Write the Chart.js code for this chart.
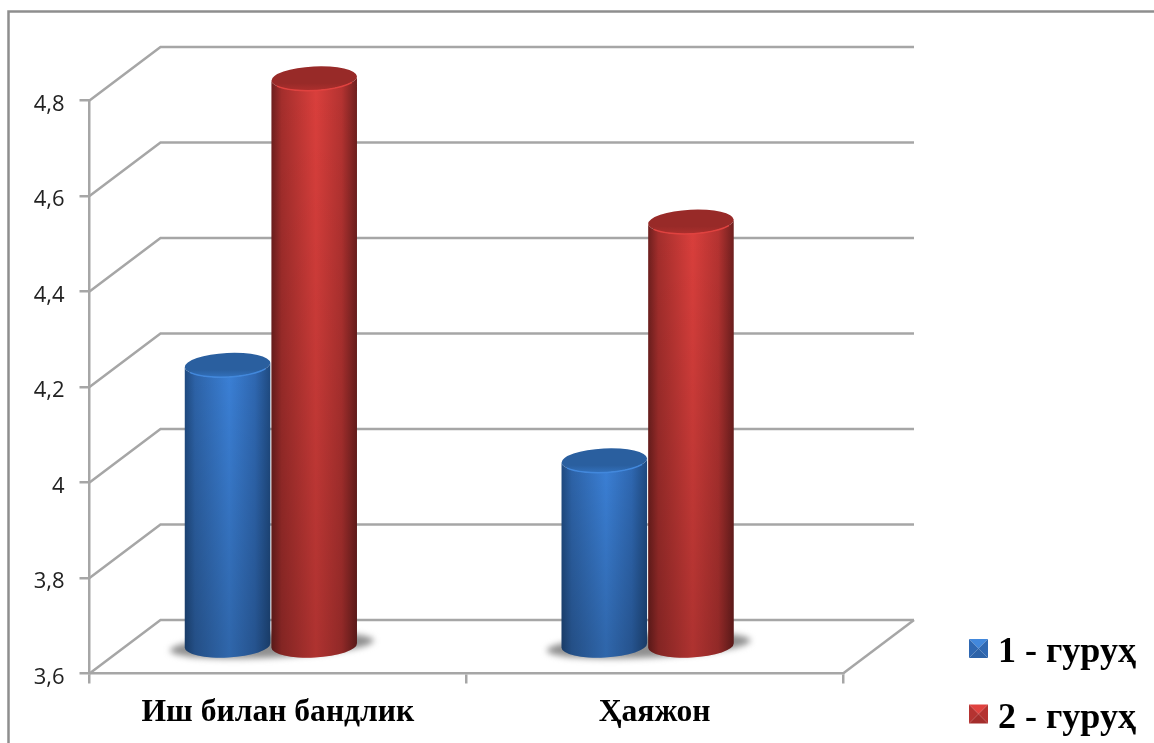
<!DOCTYPE html>
<html>
<head>
<meta charset="utf-8">
<title>Иш билан бандлик</title>
<script src="https://cdn.jsdelivr.net/npm/chart.js@4/dist/chart.umd.min.js"></script>
<style>
  html, body { margin: 0; padding: 0; background: #fff; }
  canvas { display: block; }
</style>
</head>
<body>
<canvas id="grafico" width="1154" height="743"></canvas>
<script>
const categories = ['Иш билан бандлик', 'Ҳаяжон'];
const group1 = [4.2, 4.0];
const group2 = [4.8, 4.5];
const seriesNames = ['1 - гуруҳ', '2 - гуруҳ'];
const yTicks = [3.6, 3.8, 4, 4.2, 4.4, 4.6, 4.8];

const gridColor = '#a6a6a6';
const depthX = 71;
const depthY = -53.5;

const paletteBlue = { edge: '#1f4a80', shoulder: '#2d63a8', light: '#3b80d6', mid: '#2f68b2', cap: '#2a5f9f', capLow: '#3270bb', rim: '#4288dc' };
const paletteRed = { edge: '#6e1f1e', shoulder: '#a42e2c', light: '#da3f3c', mid: '#b53331', cap: '#982a28', capLow: '#ac2f2d', rim: '#e0423f' };

// cylinder outline, tilted a bit like the 3D view
function cylinderPath(ctx, x, top, bottom, rx, ry, tilt) {
    ctx.beginPath();
    ctx.ellipse(x, top, rx, ry, tilt, Math.PI, 0, true);
    ctx.ellipse(x, bottom, rx, ry, tilt, 0, Math.PI, false);
    ctx.closePath();
}

function drawCylinder(ctx, bar, floorY, colors) {
    const rx = bar.width / 2 - 0.5;
    const ry = 12;
    const tilt = -0.05;
    const x = bar.x - 7;
    const top = bar.y - 22;
    const bottom = floorY - 28;

    const side = ctx.createLinearGradient(x - rx, 0, x + rx, 0);
    side.addColorStop(0, colors.edge);
    side.addColorStop(0.12, colors.shoulder);
    side.addColorStop(0.52, colors.light);
    side.addColorStop(0.82, colors.mid);
    side.addColorStop(1, colors.edge);

    ctx.save();
    cylinderPath(ctx, x, top, bottom, rx, ry, tilt);
    ctx.fillStyle = side;
    ctx.fill();

    // darker towards the floor
    const fade = ctx.createLinearGradient(0, top, 0, bottom);
    fade.addColorStop(0, 'rgba(0,0,0,0)');
    fade.addColorStop(1, 'rgba(0,0,0,0.2)');
    ctx.fillStyle = fade;
    ctx.fill();

    // cap
    const cap = ctx.createLinearGradient(0, top - ry, 0, top + ry);
    cap.addColorStop(0, colors.cap);
    cap.addColorStop(0.7, colors.cap);
    cap.addColorStop(1, colors.capLow);
    ctx.beginPath();
    ctx.ellipse(x, top, rx, ry, tilt, 0, Math.PI * 2);
    ctx.fillStyle = cap;
    ctx.fill();
    ctx.beginPath();
    ctx.ellipse(x, top, rx, ry, tilt, 0.5, Math.PI - 0.5);
    ctx.strokeStyle = colors.rim;
    ctx.lineWidth = 1.5;
    ctx.stroke();
    ctx.restore();
}

function drawFloorShadow(ctx, x, y) {
    ctx.save();
    ctx.filter = 'blur(3px)';
    ctx.fillStyle = '#8f8f8f';
    ctx.beginPath();
    ctx.ellipse(x, y, 102, 12, -0.05, 0, Math.PI * 2);
    ctx.fill();
    ctx.restore();
}

// small bevelled legend square
function drawSwatch(ctx, x, y, s, colors) {
    const c = s / 2;
    const tri = (pts, fill) => {
        ctx.beginPath();
        ctx.moveTo(pts[0], pts[1]);
        ctx.lineTo(pts[2], pts[3]);
        ctx.lineTo(pts[4], pts[5]);
        ctx.closePath();
        ctx.fillStyle = fill;
        ctx.fill();
    };
    tri([x, y, x + s, y, x + c, y + c], colors.rim);
    tri([x, y, x, y + s, x + c, y + c], colors.mid);
    tri([x + s, y, x + s, y + s, x + c, y + c], colors.mid);
    tri([x, y + s, x + s, y + s, x + c, y + c], colors.shoulder);
}

const cylinderPlugin = {
    id: 'cylinders',
    beforeDatasetsDraw(chart) {
        const { ctx, chartArea, scales } = chart;
        const floorY = scales.y.getPixelForValue(yTicks[0]);
        ctx.save();
        ctx.strokeStyle = gridColor;
        ctx.lineWidth = 2.5;
        // back wall lines and the slanted lines coming off the front axis
        yTicks.forEach((v) => {
            const y = scales.y.getPixelForValue(v);
            ctx.beginPath();
            ctx.moveTo(chartArea.left, y);
            ctx.lineTo(chartArea.left + depthX, y + depthY);
            ctx.lineTo(chartArea.right + depthX, y + depthY);
            ctx.stroke();
        });
        // right edge of the floor
        ctx.beginPath();
        ctx.moveTo(chartArea.right, floorY);
        ctx.lineTo(chartArea.right + depthX, floorY + depthY);
        ctx.stroke();
        ctx.restore();

        categories.forEach((c, i) => {
            drawFloorShadow(ctx, scales.x.getPixelForValue(i) - 6, floorY - 28);
        });

        // blue first so the red cylinder sits in front of it
        chart.getDatasetMeta(0).data.forEach((bar) => drawCylinder(ctx, bar, floorY, paletteBlue));
        chart.getDatasetMeta(1).data.forEach((bar) => drawCylinder(ctx, bar, floorY, paletteRed));
    },
    beforeDatasetDraw() {
        return false;
    },
    afterDraw(chart) {
        const { ctx } = chart;
        // outer frame
        ctx.save();
        ctx.strokeStyle = '#8e8e8e';
        ctx.lineWidth = 2.5;
        ctx.strokeRect(8.5, 11.5, 1200, 800);

        // legend
        const swatchY = [639, 704.5];
        const textY = [662, 727.5];
        ctx.font = 'bold 36px "Liberation Serif"';
        ctx.textBaseline = 'alphabetic';
        seriesNames.forEach((name, i) => {
            drawSwatch(ctx, 969, swatchY[i], 19, i === 0 ? paletteBlue : paletteRed);
            ctx.fillStyle = '#000';
            ctx.fillText(name, 998, textY[i]);
        });
        ctx.restore();
    }
};

new Chart(document.getElementById('grafico'), {
    type: 'bar',
    data: {
        labels: categories,
        datasets: [
            { label: seriesNames[0], data: group1, backgroundColor: '#3b80d6' },
            { label: seriesNames[1], data: group2, backgroundColor: '#da3f3c' }
        ]
    },
    plugins: [cylinderPlugin],
    options: {
        responsive: false,
        animation: false,
        layout: { padding: { top: 100.5, right: 311, left: 0, bottom: 0 } },
        plugins: {
            legend: { display: false },
            title: { display: false },
            tooltip: { enabled: false }
        },
        datasets: { bar: { categoryPercentage: 0.46, barPercentage: 1 } },
        scales: {
            x: {
                offset: true,
                afterFit(scale) { scale.height = 69.5; },
                grid: {
                    offset: true,
                    drawOnChartArea: false,
                    color: gridColor,
                    lineWidth: 2.5,
                    tickLength: 10
                },
                border: { color: gridColor, width: 2.5 },
                ticks: {
                    color: '#000',
                    padding: 10,
                    maxRotation: 0,
                    font: { family: '"Liberation Serif"', size: 31.6, weight: 'bold' }
                }
            },
            y: {
                min: 3.6,
                max: 4.8,
                afterFit(scale) {
                    scale.width = 89.5;
                    // tick labels sit slightly below their tick marks
                    const drawLabels = scale.drawLabels;
                    if (!scale.labelsShifted) {
                        scale.labelsShifted = true;
                        scale.drawLabels = function (area) {
                            this.ctx.save();
                            this.ctx.translate(0, 4);
                            drawLabels.call(this, area);
                            this.ctx.restore();
                        };
                    }
                },
                afterBuildTicks(scale) { scale.ticks = yTicks.map((v) => ({ value: v })); },
                grid: {
                    drawOnChartArea: false,
                    color: gridColor,
                    lineWidth: 2.5,
                    tickLength: 10
                },
                border: { color: gridColor, width: 2.5 },
                ticks: {
                    color: '#222',
                    padding: 15,
                    font: { family: '"Open Sans"', size: 22 },
                    callback: (v) => String(v).replace('.', ',')
                }
            }
        }
    }
});
</script>
</body>
</html>
